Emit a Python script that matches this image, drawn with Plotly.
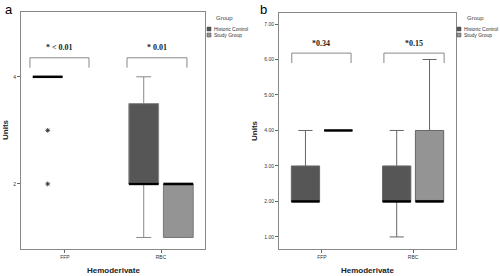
import plotly.graph_objects as go

# ---------------- data ----------------
categories = ["FFP", "RBC"]
groups = ["Historic Control", "Study Group"]

# panel a  (None = group absent)
a_hist_q = dict(low=[4, 1], q1=[4, 2], med=[4, 2], q3=[4, 3.5], high=[4, 4])
a_study_q = dict(low=[None, 1], q1=[None, 1], med=[None, 2], q3=[None, 2], high=[None, 2])
a_outliers_y = [3, 2]          # historic control, FFP
a_pvals = ["* < 0.01", "* 0.01"]
a_yticks = [2, 4]

# panel b
b_hist_q = dict(low=[2, 1], q1=[2, 2], med=[2, 2], q3=[3, 3], high=[4, 4])
b_study_q = dict(low=[4, 2], q1=[4, 2], med=[4, 2], q3=[4, 4], high=[4, 6])
b_pvals = ["*0.34", "*0.15"]
b_yticks = [1, 2, 3, 4, 5, 6, 7]

DARK = "#565656"
LIGHT = "#949494"
OFF = 0.18
BW = 0.31
W, H = 500, 276

fig = go.Figure()


def add_group(q, name, color, off, xa, ya, wcol):
    xs, q1, med, q3, lo, hi = [], [], [], [], [], []
    for i, c in enumerate(categories):
        if q["med"][i] is None:
            continue
        xs.append(i + off)
        q1.append(q["q1"][i]); med.append(q["med"][i]); q3.append(q["q3"][i])
        lo.append(q["low"][i]); hi.append(q["high"][i])
    fig.add_trace(go.Box(
        x=xs, q1=q1, median=med, q3=q3, lowerfence=lo, upperfence=hi,
        name=name, fillcolor=color, line=dict(color=wcol, width=1),
        width=BW, whiskerwidth=0.5, boxpoints=False,
        xaxis=xa, yaxis=ya, showlegend=False, hoverinfo="skip"))
    # thick median lines
    mx, my = [], []
    for x, m in zip(xs, med):
        mx += [x - BW / 2, x + BW / 2, None]
        my += [m, m, None]
    fig.add_trace(go.Scatter(x=mx, y=my, mode="lines",
                             line=dict(color="black", width=2.5),
                             xaxis=xa, yaxis=ya, showlegend=False, hoverinfo="skip"))


add_group(a_hist_q, groups[0], DARK, -OFF, "x", "y", "#888888")
add_group(a_study_q, groups[1], LIGHT, OFF, "x", "y", "#777777")
fig.add_trace(go.Scatter(x=[-OFF] * len(a_outliers_y), y=a_outliers_y, mode="markers",
                         marker=dict(symbol="asterisk-open", size=4, color="#222",
                                     line=dict(width=0.8, color="#222")),
                         xaxis="x", yaxis="y", showlegend=False, hoverinfo="skip"))

add_group(b_hist_q, groups[0], DARK, -OFF, "x2", "y2", "#666666")
add_group(b_study_q, groups[1], LIGHT, OFF, "x2", "y2", "#666666")

shapes, annots = [], []


def bracket(xref, yref, x0, x1, ytop, ybot, text, ytext):
    shapes.append(dict(type="path", xref=xref, yref=yref,
                       path=f"M {x0},{ybot} L {x0},{ytop} L {x1},{ytop} L {x1},{ybot}",
                       line=dict(color="#888888", width=1)))
    annots.append(dict(x=(x0 + x1) / 2, y=ytext, xref=xref, yref=yref, text=f"<b>{text}</b>",
                       showarrow=False, font=dict(family="Liberation Serif", size=8, color="#222")))


bracket("x", "y", -0.365, 0.25, 4.355, 4.17, a_pvals[0], 4.54)
bracket("x", "y", 0.646, 1.27, 4.355, 4.17, a_pvals[1], 4.54)
bracket("x2", "y2", -0.33, 0.32, 6.18, 5.90, b_pvals[0], 6.46)
bracket("x2", "y2", 0.68, 1.34, 6.18, 5.90, b_pvals[1], 6.46)


def ptext(x, y, text, size, color="#222", angle=0, xanchor="center", family="Liberation Sans"):
    annots.append(dict(x=x / W, y=1 - y / H, xref="paper", yref="paper", text=text,
                       showarrow=False, textangle=angle, xanchor=xanchor, yanchor="middle",
                       font=dict(family=family, size=size, color=color)))


# panel letters
ptext(9, 9, "a", 13, "black")
ptext(263, 9, "b", 13, "black")
# axis titles
ptext(113, 270, "<b>Hemoderivate</b>", 8)
ptext(367, 270, "<b>Hemoderivate</b>", 8)
ptext(5, 130, "<b>Units</b>", 8, angle=-90)
ptext(254, 131, "<b>Units</b>", 8, angle=-90)

# manual legends
colors = [DARK, LIGHT]
for lx, gx in [(207, 224), (457, 475)]:
    ptext(gx, 18, "Group", 6, "#444")
    for k, (g, c) in enumerate(zip(groups, colors)):
        yy = 29 + 6 * k
        shapes.append(dict(type="rect", xref="paper", yref="paper",
                           x0=lx / W, x1=(lx + 4) / W, y0=1 - (yy - 2) / H, y1=1 - (yy + 2) / H,
                           fillcolor=c, line=dict(color="#444", width=0.5)))
        ptext(lx + 5, yy, g, 5, "#333", xanchor="left")

axis_common = dict(showline=True, mirror=True, linecolor="#888888", linewidth=1,
                   showgrid=False, zeroline=False, ticks="outside", ticklen=3,
                   tickcolor="#666666", tickfont=dict(family="Liberation Sans", size=5, color="#333"))

fig.update_layout(
    width=W, height=H, margin=dict(l=0, r=0, t=0, b=0),
    paper_bgcolor="white", plot_bgcolor="white",
    shapes=shapes, annotations=annots, showlegend=False,
    xaxis=dict(domain=[21 / W, 205 / W], range=[-0.458, 1.458],
               tickvals=[0, 1], ticktext=categories, anchor="y", **axis_common),
    yaxis=dict(domain=[1 - 249 / H, 1 - 12 / H], range=[0.785, 5.21],
               tickvals=a_yticks, anchor="x", **axis_common),
    xaxis2=dict(domain=[279 / W, 456 / W], range=[-0.47, 1.47],
                tickvals=[0, 1], ticktext=categories, anchor="y2", **axis_common),
    yaxis2=dict(domain=[1 - 249 / H, 1 - 13 / H], range=[0.66, 7.31],
                tickvals=b_yticks, ticktext=[f"{v:.2f}" for v in b_yticks], anchor="x2",
                **axis_common),
)

fig.write_html("out.html", config={"displayModeBar": False},
               post_script="document.body.style.margin='0px';document.body.style.overflow='hidden';")
